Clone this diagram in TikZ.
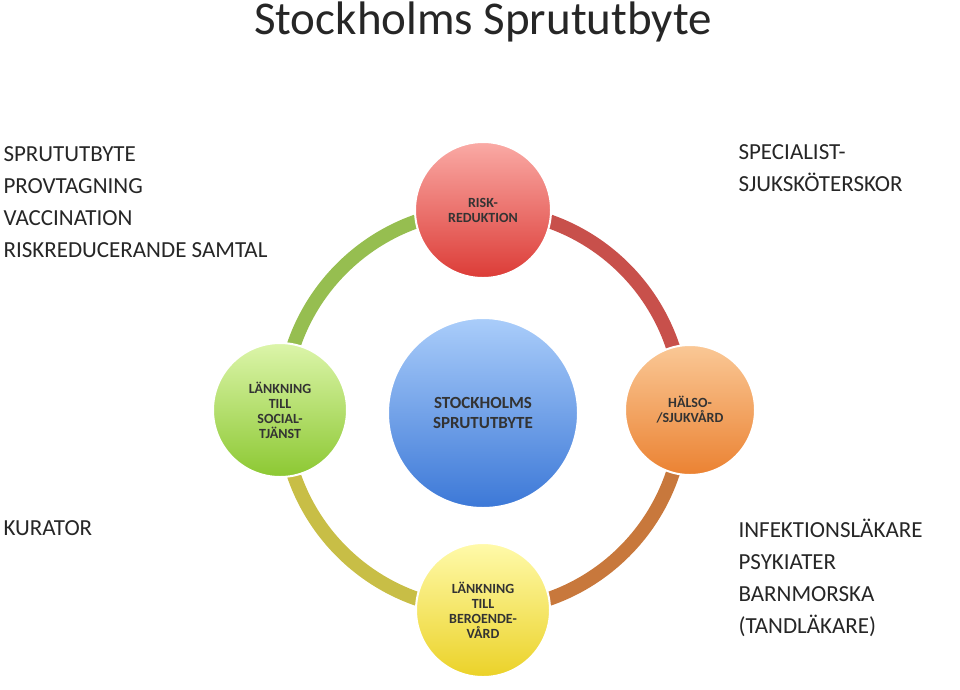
\documentclass[tikz,border=0pt]{standalone}
\usepackage{fontspec}
\setmainfont{Carlito}
\begin{document}
\begin{tikzpicture}[x=1pt,y=-1pt,
  ring/.style={line width=14pt},
  bub/.style={circle,draw=white,line width=2pt,align=center,font=\fontsize{14}{15}\selectfont\bfseries,text=black!80},
  side/.style={anchor=west,align=left,font=\fontsize{23}{32}\selectfont,text=black!85}]
\useasboundingbox (0,0) rectangle (960,689);
\coordinate (c) at (483,410);
\draw[ring,color={rgb,255:red,150;green,190;blue,80}] (c) ++(180:200) arc (180:270:200);
\draw[ring,color={rgb,255:red,200;green,80;blue,75}] (c) ++(270:200) arc (270:360:200);
\draw[ring,color={rgb,255:red,200;green,120;blue,60}] (c) ++(0:200) arc (0:90:200);
\draw[ring,color={rgb,255:red,200;green,190;blue,70}] (c) ++(90:200) arc (90:180:200);
\node[bub,minimum size=136pt,top color={rgb,255:red,250;green,170;blue,165},bottom color={rgb,255:red,220;green,60;blue,55}] (top) at (483,210) {RISK-\\REDUKTION};
\node[bub,minimum size=130pt,top color={rgb,255:red,250;green,200;blue,150},bottom color={rgb,255:red,235;green,130;blue,50}] (right) at (690,410) {HÄLSO-\\/SJUKVÅRD};
\node[bub,minimum size=134pt,top color={rgb,255:red,255;green,250;blue,170},bottom color={rgb,255:red,235;green,210;blue,40}] (bottom) at (483,610) {LÄNKNING\\TILL\\BEROENDE-\\VÅRD};
\node[bub,minimum size=134pt,top color={rgb,255:red,220;green,245;blue,170},bottom color={rgb,255:red,140;green,200;blue,50}] (left) at (280,410) {LÄNKNING\\TILL\\SOCIAL-\\TJÄNST};
\node[bub,minimum size=190pt,top color={rgb,255:red,170;green,205;blue,250},bottom color={rgb,255:red,60;green,120;blue,215},font=\fontsize{17}{20}\selectfont\bfseries] (mid) at (483,413) {STOCKHOLMS\\SPRUTUTBYTE};
\node[font=\fontsize{47}{50}\selectfont,text=black!85] (title) at (483,22) {Stockholms Sprututbyte};
\node[side] (tl) at (0,202) {SPRUTUTBYTE\\PROVTAGNING\\VACCINATION\\RISKREDUCERANDE SAMTAL};
\node[side] (tr) at (735,168) {SPECIALIST-\\SJUKSKÖTERSKOR};
\node[side] (bl) at (0,528) {KURATOR};
\node[side] (br) at (735,578) {INFEKTIONSLÄKARE\\PSYKIATER\\BARNMORSKA\\(TANDLÄKARE)};
\end{tikzpicture}
\end{document}
